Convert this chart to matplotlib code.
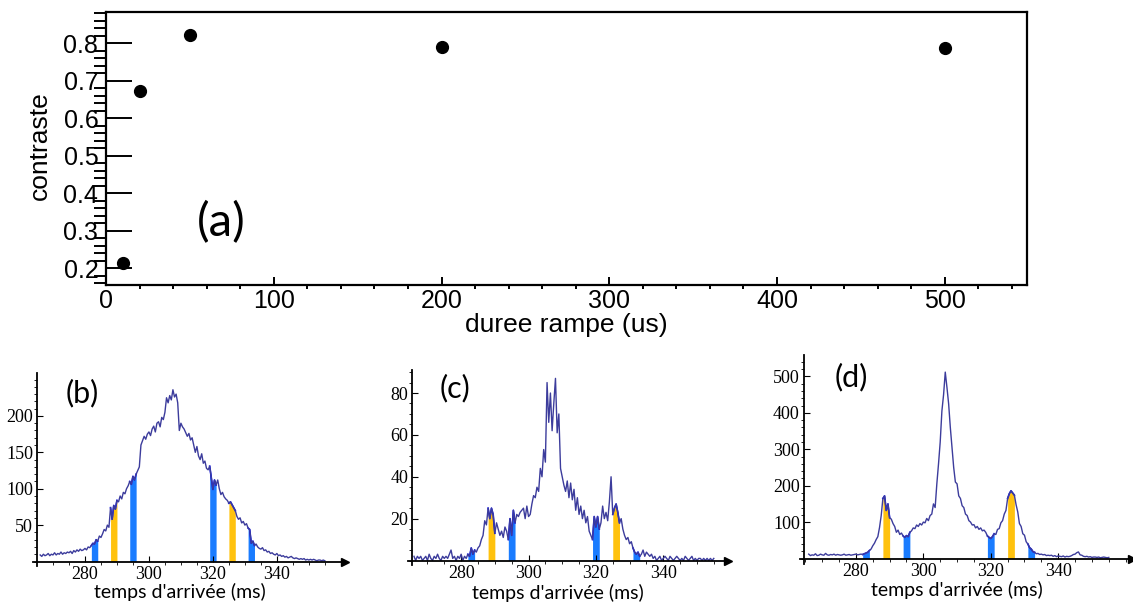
import numpy as np
import matplotlib
matplotlib.use("Agg")
import matplotlib.pyplot as plt
from matplotlib.ticker import MultipleLocator

# (a) contrast vs ramp duration
ramp_us = [10, 20, 50, 200, 500]
contrast = [0.215, 0.673, 0.822, 0.790, 0.787]

# arrival-time histograms, 0.5 ms bins from 266 to 355 ms
t_start, t_stop, t_step = 266.0, 355.0, 0.5
counts_b = [
    9, 7, 10, 8, 9, 11, 8, 10, 9, 12,
    9, 11, 10, 13, 10, 12, 11, 13, 12, 14,
    11, 15, 13, 16, 14, 17, 15, 16, 18, 16,
    20, 19, 22, 25, 24, 30, 28, 35, 33, 38,
    44, 42, 50, 47, 74, 58, 77, 72, 84, 82,
    90, 86, 95, 93, 100, 104, 110, 106, 117, 112,
    120, 125, 130, 160, 166, 172, 168, 175, 178, 173,
    182, 186, 178, 190, 192, 185, 198, 195, 205, 225,
    218, 228, 222, 236, 226, 230, 218, 180, 190, 185,
    182, 177, 172, 176, 167, 170, 160, 150, 158, 145,
    140, 148, 135, 138, 128, 126, 131, 115, 99, 112,
    105, 112, 100, 92, 95, 89, 86, 84, 80, 82,
    78, 74, 70, 62, 58, 60, 53, 55, 50, 52,
    46, 44, 25, 28, 22, 24, 20, 18, 17, 19,
    15, 16, 13, 14, 11, 12, 10, 9, 11, 8,
    9, 7, 8, 6, 7, 5, 6, 7, 5, 4,
    5, 4, 3, 4, 3, 4, 2, 3, 2, 3,
    2, 3, 2, 1, 2, 2, 1, 2, 1,
]
counts_c = [
    2, 0, 2, 1, 2, 0, 1, 2, 0, 3,
    1, 0, 2, 1, 3, 1, 0, 2, 1, 2,
    1, 3, 5, 1, 2, 0, 2, 1, 3, 0,
    2, 1, 3, 2, 6, 3, 5, 4, 6, 7,
    10, 12, 19, 17, 25, 20, 25, 22, 13, 18,
    15, 12, 14, 11, 16, 14, 10, 20, 12, 24,
    18, 22, 21, 23, 24, 25, 20, 26, 21, 22,
    27, 31, 30, 35, 33, 44, 40, 53, 47, 85,
    66, 80, 62, 75, 87, 61, 70, 44, 40, 36,
    33, 38, 30, 37, 29, 34, 24, 30, 22, 26,
    20, 24, 18, 21, 14, 12, 10, 21, 16, 21,
    15, 18, 26, 20, 23, 19, 28, 40, 22, 25,
    27, 23, 18, 20, 15, 12, 10, 11, 8, 9,
    6, 4, 3, 4, 2, 3, 5, 2, 4, 3,
    2, 3, 1, 2, 0, 1, 2, 0, 1, 2,
    1, 0, 2, 1, 0, 1, 2, 1, 0, 1,
    0, 2, 1, 0, 1, 2, 0, 1, 0, 1,
    1, 0, 1, 0, 1, 0, 1, 0, 1,
]
counts_d = [
    12, 8, 10, 9, 13, 8, 9, 12, 10, 9,
    14, 10, 9, 11, 10, 12, 9, 11, 10, 9,
    10, 12, 9, 10, 11, 9, 10, 11, 12, 10,
    11, 12, 11, 13, 15, 17, 22, 26, 35, 42,
    52, 60, 85, 118, 165, 172, 132, 150, 112, 108,
    96, 88, 72, 78, 66, 70, 62, 58, 63, 60,
    72, 76, 84, 82, 92, 88, 96, 92, 100, 98,
    110, 104, 118, 122, 150, 140, 205, 260, 320, 405,
    450, 512, 470, 425, 360, 305, 250, 210, 205, 172,
    165, 145, 140, 122, 118, 104, 100, 92, 93, 84,
    88, 80, 84, 76, 78, 72, 62, 58, 55, 60,
    68, 66, 80, 82, 98, 104, 122, 132, 165, 178,
    186, 180, 174, 148, 128, 96, 88, 68, 64, 46,
    40, 30, 26, 19, 17, 13, 14, 11, 12, 10,
    11, 8, 9, 8, 9, 6, 8, 5, 7, 6,
    5, 7, 4, 6, 5, 6, 8, 11, 12, 16,
    18, 10, 9, 6, 5, 6, 4, 5, 3, 4,
    4, 3, 4, 2, 3, 4, 3, 2, 3,
]
ticks_t = [280, 300, 320, 340]
ticks_b = [50, 100, 150, 200]
ticks_c = [20, 40, 60, 80]
ticks_d = [100, 200, 300, 400, 500]
blue_windows = [(282, 284), (294, 296), (319, 321), (331, 333)]
gold_windows = [(288, 290), (325, 327)]

W, H = 1133, 604
fig = plt.figure(figsize=(W / 100, H / 100), dpi=100)


def box(x0, y0, x1, y1):
    # pixel box (left, top, right, bottom) -> figure fraction rect
    return [x0 / W, 1 - y1 / H, (x1 - x0) / W, (y1 - y0) / H]


def ftext(px, py, s, **kw):
    fig.text(px / W, 1 - py / H, s, ha="center", va="center", **kw)


# ---- top panel
ax = fig.add_axes(box(106, 12, 1027, 285))
ax.plot(ramp_us, contrast, "o", color="black", markersize=8.5)
ax.set_xlim(0, 549)
ax.set_ylim(0.155, 0.883)
ax.xaxis.set_major_locator(MultipleLocator(100))
ax.xaxis.set_minor_locator(MultipleLocator(20))
ax.yaxis.set_major_locator(MultipleLocator(0.1))
ax.yaxis.set_minor_locator(MultipleLocator(0.02))
ax.yaxis.set_major_formatter(plt.FuncFormatter(lambda v, p: f"{v:.1f}"))
for s in ax.spines.values():
    s.set_linewidth(1.6)
ax.tick_params(direction="in", top=False, right=False, width=1.4,
               labelsize=18, labelfontfamily="Liberation Sans")
ax.tick_params(axis="y", which="major", length=18.5, pad=5.5)
ax.tick_params(axis="y", which="minor", length=8.5, width=1.4)
ax.tick_params(axis="x", which="major", length=6, pad=3)
ax.tick_params(axis="x", which="minor", length=3, width=1.4)
ftext(566, 325, "duree rampe (us)", fontsize=19, family="Liberation Sans")
ftext(40, 146, "contraste", fontsize=19, family="Liberation Sans", rotation=90)
ftext(221, 223, "(a)", fontsize=34, family="Lato")

# ---- bottom panels
t = np.arange(t_start, t_stop + t_step / 2, t_step)
panels = [
    (counts_b, box(37.3, 373, 345, 561.5), (265.1, 361.3), (0, 259), ticks_b, 10,
     "(b)", (82, 393), (180, 592)),
    (counts_c, box(412.3, 370, 728.3, 560.5), (265.5, 359.3), (0, 91), ticks_c, 5,
     "(c)", (455, 388), (558, 593)),
    (counts_d, box(804, 355, 1131.7, 558.5), (264.6, 361.8), (0, 559), ticks_d, 20,
     "(d)", (851, 377), (957, 590)),
]
for counts, rect, xl, yl, yticks, minor, tag, tag_px, lab_px in panels:
    y = np.array(counts, dtype=float)
    a = fig.add_axes(rect)
    a.patch.set_alpha(0)
    for lo, hi in blue_windows:
        m = (t >= lo) & (t <= hi)
        a.fill_between(t[m], y[m], color="#1a7cff", lw=0)
        a.plot(t[m], y[m], color="#0a10f0", lw=1.2)
    for lo, hi in gold_windows:
        m = (t >= lo) & (t <= hi)
        a.fill_between(t[m], y[m], color="#ffc20e", lw=0)
        a.plot(t[m], y[m], color="#0a10f0", lw=1.2)
    a.plot(t, y, color="#3c3c9c", lw=1.0)
    a.set_xlim(*xl)
    a.set_ylim(*yl)
    a.spines["top"].set_visible(False)
    a.spines["right"].set_visible(False)
    for s in ("left", "bottom"):
        a.spines[s].set_linewidth(1.3)
    # axis lines poke a little past the origin, as in the original
    a.spines["bottom"].set_bounds(xl[0] - 1.2, xl[1])
    a.spines["left"].set_bounds(-0.025 * yl[1], yl[1])
    a.plot(1, 0, ">k", transform=a.get_yaxis_transform(), clip_on=False, markersize=6)
    a.plot(0, 1, "^k", transform=a.get_xaxis_transform(), clip_on=False, markersize=6)
    a.set_xticks(ticks_t)
    a.xaxis.set_minor_locator(MultipleLocator(5))
    a.set_yticks(yticks)
    a.yaxis.set_minor_locator(MultipleLocator(minor))
    a.tick_params(direction="in", labelsize=13, labelfontfamily="Liberation Serif",
                  width=0.8)
    a.tick_params(which="major", length=4, pad=3)
    a.tick_params(which="minor", length=2)
    ftext(*tag_px, tag, fontsize=22, family="Lato")
    ftext(*lab_px, "temps d'arrivée (ms)", fontsize=14, family="Lato")

fig.savefig("out.png", dpi=100)
